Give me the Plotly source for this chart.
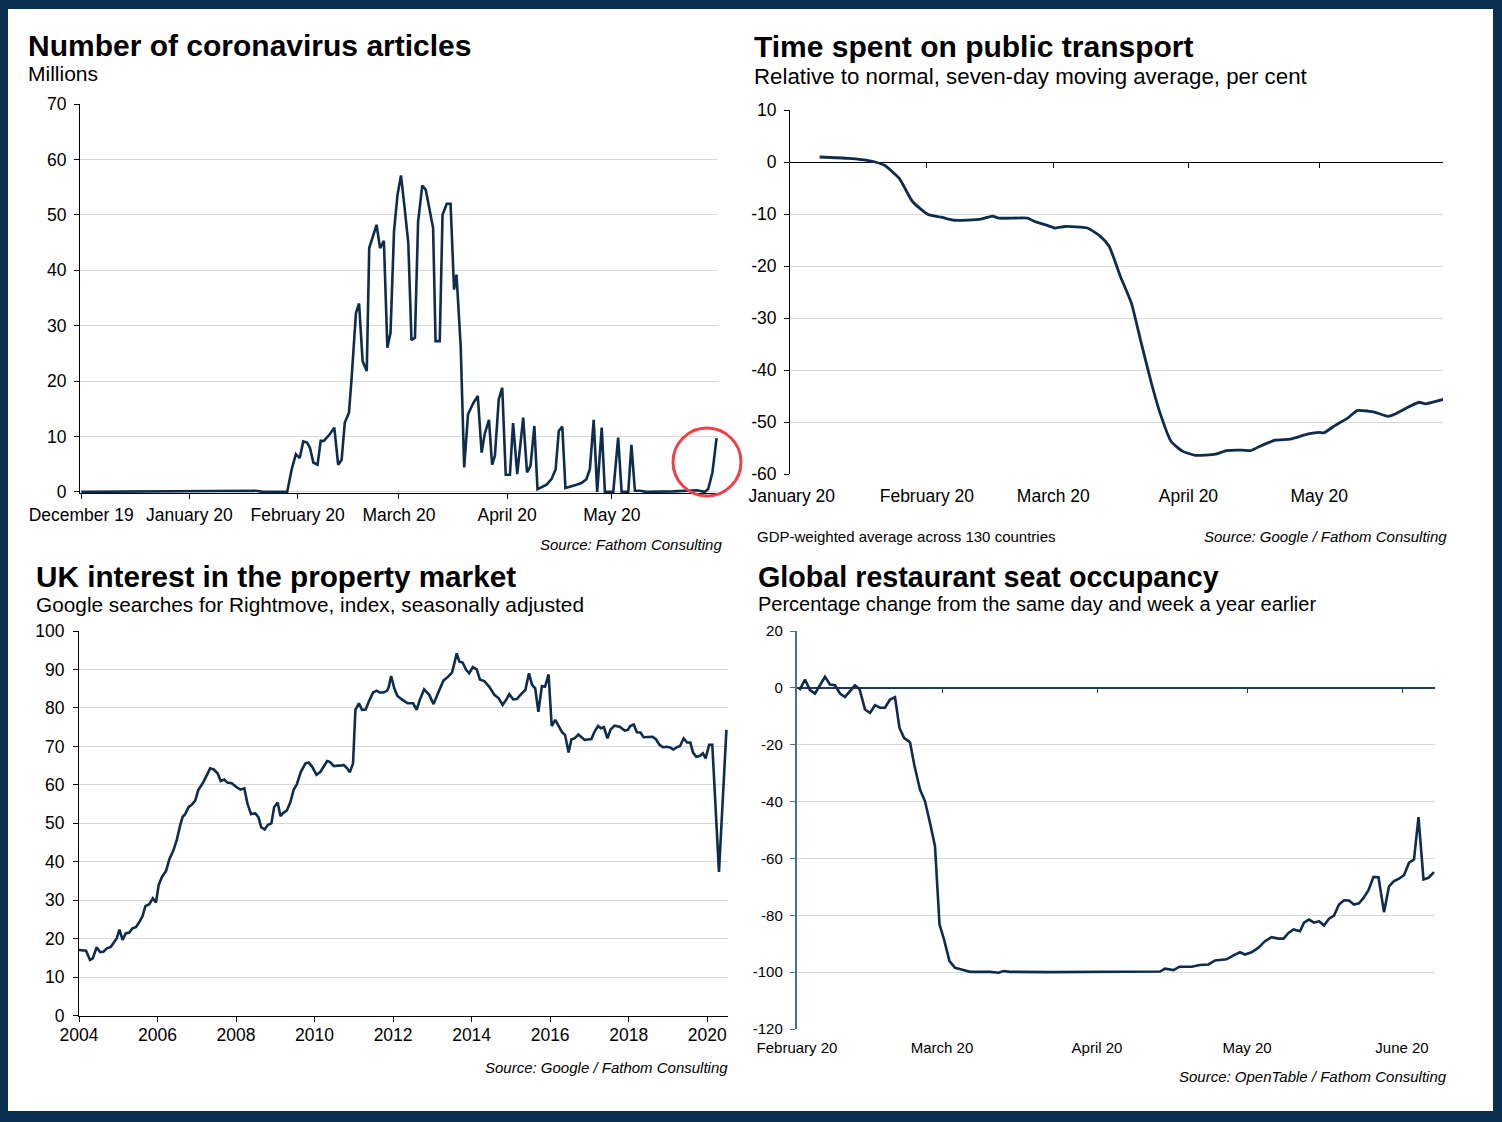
import plotly.graph_objects as go
import pandas as pd

W, H = 1502, 1122
FONT = "Liberation Sans, Arial, sans-serif"
NAVY_LINE = "#0e2c4b"
GRID = "#d9d9d9"

# ---------------- Panel 1: Number of coronavirus articles ----------------
articles_base = "2019-12-01"
articles_day = [0, 32.6, 41, 50, 52, 59, 60.3, 61.5, 62.6, 63.6, 64.7, 65.5, 66.5, 67.7, 68.6, 69.5,
                71.2, 72.5, 73.6, 74.6, 75.5, 76.7, 77.5, 78.7, 79.6, 80.6, 81.8, 82.5, 84.6, 85.6,
                86.7, 87.7, 88.6, 89.6, 90.6, 91.6, 92.7, 93.7, 94.6, 95.6, 96.5, 97.7, 98.7, 100.8,
                101.5, 102.7, 103.5, 104.7, 105.8, 106.8, 107.5, 108.7, 109.7, 110.8, 112.3, 113.6,
                114.7, 115.6, 116.8, 117.7, 118.5, 119.6, 120.6, 121.6, 122.8, 123.7, 124.9, 126.6,
                127.7, 128.7, 129.8, 130.7, 133.3, 134.7, 135.9, 136.8, 137.8, 138.7, 141.9, 143.3,
                144.7, 145.7, 146.8, 147.8, 149.1, 150.0, 152.4, 153.8, 154.8, 156.7, 157.6, 158.6,
                160.0, 161.9, 169.6, 176.3, 178.6, 179.6, 180.8, 182.0]
articles_millions = [0, 0.1, 0.1, 0.2, 0, 0, 4.1, 6.8, 6.1, 9.1, 8.9, 8.0, 5.3, 4.9, 9.2, 9.2,
                     10.4, 11.6, 4.9, 5.8, 12.5, 14.3, 20.9, 32.3, 34.0, 23.6, 21.8, 44.0, 48.2, 44.0,
                     45.3, 26.0, 28.7, 47.0, 53.6, 57.1, 50.9, 44.9, 27.4, 27.8, 48.8, 55.3, 54.5, 47.6,
                     27.2, 27.2, 50.0, 52.0, 52.0, 36.5, 39.2, 26.3, 4.4, 14.0, 16.0, 17.3,
                     7.1, 10.5, 13.0, 4.9, 6.5, 16.7, 18.8, 3.1, 3.1, 12.4, 3.2, 13.4,
                     3.5, 4.7, 11.9, 0.5, 1.3, 2.3, 4.1, 11.0, 11.8, 0.7, 1.3, 1.6,
                     2.3, 4.1, 13.0, 0.0, 11.6, 0.0, 0.0, 9.8, 0.0, 0.0, 8.5, 0.2,
                     0.2, 0.0, 0.1, 0.3, 0.0, 0.5, 3.5, 9.7]
articles_tickvals = ["2019-12-01", "2020-01-01", "2020-02-01", "2020-03-01", "2020-04-01", "2020-05-01"]
articles_ticktext = ["December 19", "January 20", "February 20", "March 20", "April 20", "May 20"]
articles_yticks = [0, 10, 20, 30, 40, 50, 60, 70]

# ---------------- Panel 2: Time spent on public transport ----------------
transport_base = "2020-01-01"
transport_day = [6.4, 13, 16, 19.1, 21.3, 24.7, 27.7, 31.3, 34.3, 37.3, 43.4, 46, 47.5, 54.1, 55.6,
                 58.6, 60.5, 62.7, 67.8, 70.8, 72.8, 75.4, 77.9, 80, 82.5, 84.5, 87, 89.6, 92.6,
                 97.2, 99.7, 103.3, 105.3, 107.3, 110.9, 114.4, 118.5, 121, 122, 124.6, 127.6,
                 129.7, 132.2, 133.7, 136.8, 138.8, 140.8, 143.9, 145.4, 147.9, 149.7]
transport_pct = [0.96, 0.7, 0.45, 0, -0.64, -3.2, -7.6, -10.1, -10.6, -11.2, -11.0, -10.4, -10.8, -10.8, -11.4,
                 -12.2, -12.7, -12.4, -12.7, -14.3, -16.2, -22, -27.1, -34.2, -42.5, -48.3, -53.7, -55.6, -56.4,
                 -56.2, -55.5, -55.4, -55.5, -54.7, -53.5, -53.3, -52.3, -52, -52.1, -50.7, -49.2,
                 -47.8, -47.9, -48.1, -48.9, -48.3, -47.4, -46.2, -46.5, -46, -45.6]
transport_tickvals = ["2020-01-01", "2020-02-01", "2020-03-01", "2020-04-01", "2020-05-01"]
transport_ticktext = ["January 20", "February 20", "March 20", "April 20", "May 20"]
transport_yvals = [10, 0, -10, -20, -30, -40, -50, -60]
transport_ytext = ["10", "0", "-10", "-20", "-30", "-40", "-50", "-60"]

# ---------------- Panel 3: UK interest in the property market ----------------
rightmove_year = [2004.0, 2004.18, 2004.28, 2004.35, 2004.45, 2004.54, 2004.62, 2004.71, 2004.81, 2004.89,
                  2004.96, 2005.03, 2005.11, 2005.19, 2005.28, 2005.36, 2005.45, 2005.54, 2005.62, 2005.69,
                  2005.79, 2005.88, 2005.96, 2006.03, 2006.11, 2006.22, 2006.30, 2006.41, 2006.49, 2006.58,
                  2006.64, 2006.70, 2006.79, 2006.87, 2006.96, 2007.04, 2007.15, 2007.26, 2007.34, 2007.43,
                  2007.53, 2007.61, 2007.70, 2007.78, 2007.89, 2008.0, 2008.11, 2008.21, 2008.29, 2008.38,
                  2008.49, 2008.57, 2008.64, 2008.73, 2008.81, 2008.90, 2008.97, 2009.06, 2009.13, 2009.21,
                  2009.29, 2009.38, 2009.47, 2009.55, 2009.65, 2009.77, 2009.85, 2009.94, 2010.05, 2010.15,
                  2010.23, 2010.32, 2010.39, 2010.49, 2010.59, 2010.66, 2010.74, 2010.83, 2010.90, 2010.98,
                  2011.04, 2011.13, 2011.21, 2011.30, 2011.38, 2011.49, 2011.58, 2011.66, 2011.76, 2011.85,
                  2011.89, 2011.95, 2012.03, 2012.11, 2012.24, 2012.37, 2012.51, 2012.60, 2012.68, 2012.79,
                  2012.92, 2013.03, 2013.16, 2013.28, 2013.39, 2013.50, 2013.56, 2013.62, 2013.69, 2013.77,
                  2013.86, 2013.94, 2014.03, 2014.13, 2014.21, 2014.32, 2014.45, 2014.58, 2014.69, 2014.79,
                  2014.88, 2014.96, 2015.06, 2015.15, 2015.26, 2015.37, 2015.46, 2015.54, 2015.62, 2015.70,
                  2015.79, 2015.87, 2015.96, 2016.04, 2016.13, 2016.22, 2016.31, 2016.38, 2016.47, 2016.54,
                  2016.62, 2016.72, 2016.79, 2016.88, 2016.96, 2017.05, 2017.13, 2017.22, 2017.29, 2017.37,
                  2017.46, 2017.54, 2017.64, 2017.77, 2017.90, 2017.98, 2018.04, 2018.13, 2018.21, 2018.30,
                  2018.38, 2018.49, 2018.61, 2018.70, 2018.78, 2018.87, 2018.97, 2019.06, 2019.14, 2019.23,
                  2019.31, 2019.40, 2019.49, 2019.57, 2019.64, 2019.72, 2019.81, 2019.89, 2019.96, 2020.05,
                  2020.13, 2020.30, 2020.49]
rightmove_index = [17.1, 16.9, 14.5, 14.9, 17.8, 16.5, 16.6, 17.5, 17.9, 19.2,
                   20.1, 22.4, 19.7, 21.4, 21.6, 22.7, 23.0, 24.4, 25.9, 28.5,
                   29.0, 30.5, 29.4, 34.0, 36.0, 37.7, 40.6, 43.1, 45.7, 49.6,
                   51.7, 52.3, 54.2, 54.8, 55.9, 58.7, 60.4, 62.6, 64.3, 64.0,
                   63.0, 61.0, 61.4, 60.6, 60.4, 59.5, 58.8, 59.1, 55.2, 52.4,
                   52.6, 51.6, 49.0, 48.4, 49.6, 50.0, 54.2, 55.4, 51.9, 52.8,
                   53.3, 55.4, 58.8, 60.2, 63.4, 65.6, 65.8, 64.7, 62.6, 63.4,
                   64.7, 66.2, 66.0, 64.9, 65.0, 65.0, 65.2, 64.3, 63.3, 65.6,
                   79.5, 81.2, 79.5, 79.6, 81.6, 84.0, 84.5, 84.0, 84.0, 84.5,
                   85.5, 88.3, 85.1, 83.1, 82.1, 81.2, 81.2, 79.5, 82.1, 84.8,
                   83.4, 81.0, 84.2, 87.1, 88.0, 89.2, 91.6, 94.2, 92.0, 91.8,
                   89.9, 89.0, 90.6, 90.0, 87.4, 87.0, 85.5, 83.4, 82.5, 80.8,
                   82.1, 83.6, 82.2, 82.3, 83.6, 84.7, 89.0, 86.0, 85.1, 79.0,
                   85.7, 85.5, 88.7, 75.3, 76.9, 75.1, 73.6, 73.0, 68.4, 71.8,
                   72.1, 73.1, 72.4, 71.7, 71.8, 71.9, 73.8, 75.3, 74.7, 75.0,
                   72.1, 74.4, 75.4, 75.1, 74.1, 74.3, 75.3, 75.7, 73.7, 73.6,
                   72.4, 72.4, 72.5, 71.8, 70.5, 69.8, 69.9, 69.7, 69.2, 69.8,
                   70.1, 72.1, 71.0, 71.0, 68.4, 67.3, 67.5, 68.2, 66.9, 70.4,
                   70.4, 37.4, 74.3]
rightmove_xticks = [2004, 2006, 2008, 2010, 2012, 2014, 2016, 2018, 2020]
rightmove_yticks = [0, 10, 20, 30, 40, 50, 60, 70, 80, 90, 100]

# ---------------- Panel 4: Global restaurant seat occupancy ----------------
restaurant_base = "2020-02-01"
restaurant_day = [0.5, 1.6, 2.6, 3.6, 5.6, 6.6, 7.6, 8.6, 9.6, 10.6, 11.6, 12.5, 13.6, 14.6, 15.6,
                  16.6, 17.6, 18.6, 19.6, 20.5, 21.4, 22.6, 23.5, 24.6, 25.6, 26.6, 27.6, 28.5, 29.4,
                  30.5, 31.6, 32.9, 34.6, 38.6, 40.3, 41.3, 42.6, 50.6, 66.6, 72.6, 73.6, 75.3, 76.5,
                  78.9, 80.6, 82.3, 83.6, 85.9, 87.3, 88.6, 89.6, 90.9, 92.3, 93.6, 94.9, 96.3, 97.3,
                  98.3, 99.3, 100.6, 101.4, 102.4, 103.4, 104.4, 105.4, 106.4, 107.4, 108.4, 109.4,
                  110.4, 111.4, 112.4, 113.3, 114.3, 115.3, 116.3, 117.4, 118.4, 119.4, 120.4, 121.4,
                  122.4, 123.4, 124.3, 125.3, 126.3, 127.4]
restaurant_pct = [-0.8, 2.9, -0.8, -2.0, 3.9, 1.2, 0.9, -2.0, -3.2, -1.2, 0.9, -0.4, -7.6, -8.8, -6.1,
                  -7.0, -7.0, -4.1, -3.3, -14.1, -17.6, -19.1, -27.5, -35.8, -39.9, -47.5, -55.7, -83.2, -88.5,
                  -96.1, -98.5, -99.1, -99.9, -99.9, -100.2, -99.6, -99.9, -100, -100, -99.8, -98.8, -99.3, -98.1,
                  -98.1, -97.5, -97.3, -95.9, -95.5, -94.1, -93.0, -93.8, -93.0, -91.4, -89.1, -87.7, -88.2, -88.2,
                  -86.2, -85.0, -85.6, -82.6, -81.5, -82.6, -82.1, -83.6, -81.2, -80.1, -76.2, -74.7,
                  -74.8, -76.2, -75.8, -73.9, -71.2, -66.5, -66.6, -78.9, -69.8, -68.0, -67.1, -65.9,
                  -61.5, -60.4, -45.5, -67.4, -66.8, -64.8]
restaurant_tickvals = ["2020-02-01", "2020-03-01", "2020-04-01", "2020-05-01", "2020-06-01"]
restaurant_ticktext = ["February 20", "March 20", "April 20", "May 20", "June 20"]
restaurant_yvals = [20, 0, -20, -40, -60, -80, -100, -120]
restaurant_ytext = ["20", "0", "-20", "-40", "-60", "-80", "-100", "-120"]


def to_dates(base, days):
    return pd.Timestamp(base) + pd.to_timedelta(days, unit="D")


def px_x(x):
    return x / W


def px_y(y):
    return 1 - y / H


def day_range(base, lo, hi):
    b = pd.Timestamp(base)
    return [b + pd.Timedelta(days=lo), b + pd.Timedelta(days=hi)]


fig = go.Figure()

fig.add_trace(go.Scatter(x=to_dates(articles_base, articles_day), y=articles_millions, mode="lines",
                         line=dict(color=NAVY_LINE, width=2.6), xaxis="x", yaxis="y", showlegend=False))
fig.add_trace(go.Scatter(x=to_dates(transport_base, transport_day), y=transport_pct, mode="lines",
                         line=dict(color=NAVY_LINE, width=2.8, shape="spline", smoothing=0.5),
                         xaxis="x2", yaxis="y2", showlegend=False))
fig.add_trace(go.Scatter(x=rightmove_year, y=rightmove_index, mode="lines",
                         line=dict(color=NAVY_LINE, width=2.6), xaxis="x3", yaxis="y3", showlegend=False))
fig.add_trace(go.Scatter(x=to_dates(restaurant_base, restaurant_day), y=restaurant_pct, mode="lines",
                         line=dict(color=NAVY_LINE, width=2.6), xaxis="x4", yaxis="y4", showlegend=False))
# helper (invisible) traces so the zero-line tick axes are drawn
fig.add_trace(go.Scatter(x=to_dates(transport_base, transport_day[:1]), y=transport_pct[:1], mode="markers",
                         marker=dict(opacity=0), xaxis="x5", yaxis="y2", showlegend=False, hoverinfo="skip"))
fig.add_trace(go.Scatter(x=to_dates(restaurant_base, restaurant_day[:1]), y=restaurant_pct[:1], mode="markers",
                         marker=dict(opacity=0), xaxis="x6", yaxis="y4", showlegend=False, hoverinfo="skip"))

tick_font = dict(family=FONT, size=17.5, color="#000000")
small_tick_font = dict(family=FONT, size=15, color="#000000")

r1 = day_range(articles_base, -0.34, 182.4)
r2 = day_range(transport_base, -0.4, 149.4)
r4 = day_range(restaurant_base, -0.1, 127.6)

common = dict(automargin=False, fixedrange=True)

fig.update_layout(
    width=W, height=H, margin=dict(l=0, r=0, t=0, b=0, pad=0, autoexpand=False),
    paper_bgcolor="#0b2f4f", plot_bgcolor="rgba(0,0,0,0)",
    font=dict(family=FONT, color="#000000"),
    showlegend=False,
    # panel 1
    xaxis=dict(domain=[px_x(80), px_x(718)], anchor="y", type="date", range=r1,
               tickvals=articles_tickvals, ticktext=articles_ticktext, ticks="outside", ticklen=5,
               tickcolor="#000000", showline=True, linecolor="#000000", linewidth=1,
               showgrid=False, zeroline=False, tickfont=tick_font, ticklabelstandoff=1, **common),
    yaxis=dict(domain=[px_y(493), px_y(104)], anchor="x", range=[-0.2, 70], tickvals=articles_yticks,
               ticks="outside", ticklen=5, tickcolor="#000000", showline=True, linecolor="#000000",
               linewidth=1, gridcolor=GRID, gridwidth=1, zeroline=False, tickfont=tick_font,
               ticklabelstandoff=4, **common),
    # panel 2
    xaxis2=dict(domain=[px_x(790), px_x(1443)], anchor="y2", type="date", range=r2,
                tickvals=transport_tickvals, ticktext=transport_ticktext, ticks="",
                showline=False, showgrid=False, zeroline=False, tickfont=tick_font,
                ticklabelstandoff=9, **common),
    xaxis5=dict(overlaying="x2", anchor="free", position=px_y(162), type="date", range=r2,
                tickvals=transport_tickvals[1:], ticks="outside", ticklen=5, tickcolor="#000000",
                showticklabels=False, showline=False, showgrid=False, zeroline=False, **common),
    yaxis2=dict(domain=[px_y(474), px_y(110)], anchor="x2", range=[-60, 10], tickvals=transport_yvals,
                ticktext=transport_ytext, ticks="outside", ticklen=5, tickcolor="#000000", showline=True,
                linecolor="#000000", linewidth=1, gridcolor=GRID, zeroline=True, zerolinecolor="#000000",
                zerolinewidth=1, tickfont=tick_font, ticklabelstandoff=4, **common),
    # panel 3
    xaxis3=dict(domain=[px_x(79), px_x(728)], anchor="y3", range=[2004, 2020.53], tickvals=rightmove_xticks,
                tickformat="d", ticks="outside", ticklen=5, tickcolor="#000000", showline=True,
                linecolor="#000000", linewidth=1, showgrid=False, zeroline=False, tickfont=tick_font,
                ticklabelstandoff=-2, **common),
    yaxis3=dict(domain=[px_y(1015.7), px_y(631)], anchor="x3", range=[0, 100], tickvals=rightmove_yticks,
                ticks="outside", ticklen=5, tickcolor="#000000", showline=True, linecolor="#000000",
                linewidth=1, gridcolor=GRID, zeroline=False, tickfont=tick_font, ticklabelstandoff=5,
                **common),
    # panel 4
    xaxis4=dict(domain=[px_x(796.5), px_x(1435)], anchor="y4", type="date", range=r4,
                tickvals=restaurant_tickvals, ticktext=restaurant_ticktext, ticks="",
                showline=False, showgrid=False, zeroline=False, tickfont=small_tick_font,
                ticklabelstandoff=8, **common),
    xaxis6=dict(overlaying="x4", anchor="free", position=px_y(688), type="date", range=r4,
                tickvals=restaurant_tickvals[1:], ticks="outside", ticklen=4, tickcolor="#1b3a5c",
                showticklabels=False, showline=False, showgrid=False, zeroline=False, **common),
    yaxis4=dict(domain=[px_y(1029), px_y(631)], anchor="x4", range=[-120, 20], tickvals=restaurant_yvals,
                ticktext=restaurant_ytext, ticks="outside", ticklen=5, tickcolor="#4a7099", showline=True,
                linecolor="#4a7099", linewidth=1.5, gridcolor=GRID, zeroline=True, zerolinecolor="#1b3a5c",
                zerolinewidth=1.5, tickfont=small_tick_font, ticklabelstandoff=4, **common),
)

shapes = [
    dict(type="rect", xref="paper", yref="paper", x0=px_x(8), x1=px_x(1493), y0=px_y(1111), y1=px_y(9),
         fillcolor="#ffffff", line=dict(width=0), layer="below"),
    dict(type="circle", xref="paper", yref="paper", x0=px_x(673), x1=px_x(741), y0=px_y(496), y1=px_y(428),
         line=dict(color="#ee4048", width=3), fillcolor="rgba(0,0,0,0)", layer="above"),
]
fig.update_layout(shapes=shapes)


def note(text, x, y, size, anchor="left", bold=False, italic=False):
    t = text
    if bold:
        t = "<b>" + t + "</b>"
    if italic:
        t = "<i>" + t + "</i>"
    fig.add_annotation(text=t, xref="paper", yref="paper", x=px_x(x), y=px_y(y), xanchor=anchor,
                       yanchor="middle", showarrow=False, font=dict(family=FONT, size=size, color="#000000"))


note("Number of coronavirus articles", 26, 45, 30, bold=True)
note("Millions", 26, 74, 21)
note("Source: Fathom Consulting", 724, 544, 15, anchor="right", italic=True)

note("Time spent on public transport", 752, 47, 30, bold=True)
note("Relative to normal, seven-day moving average, per cent", 752, 77, 22.3)
note("GDP-weighted average across 130 countries", 755, 536, 15)
note("Source: Google / Fathom Consulting", 1449, 536, 15, anchor="right", italic=True)

note("UK interest in the property market", 34, 576, 29.7, bold=True)
note("Google searches for Rightmove, index, seasonally adjusted", 34, 604, 20.8)
note("Source: Google / Fathom Consulting", 730, 1067, 15, anchor="right", italic=True)

note("Global restaurant seat occupancy", 756, 577, 28.7, bold=True)
note("Percentage change from the same day and week a year earlier", 756, 604, 20)
note("Source: OpenTable / Fathom Consulting", 1449, 1076, 15, anchor="right", italic=True)

fig.write_html("out.html", config={"displayModeBar": False},
               post_script="document.body.style.margin='0';document.body.style.overflow='hidden';")
